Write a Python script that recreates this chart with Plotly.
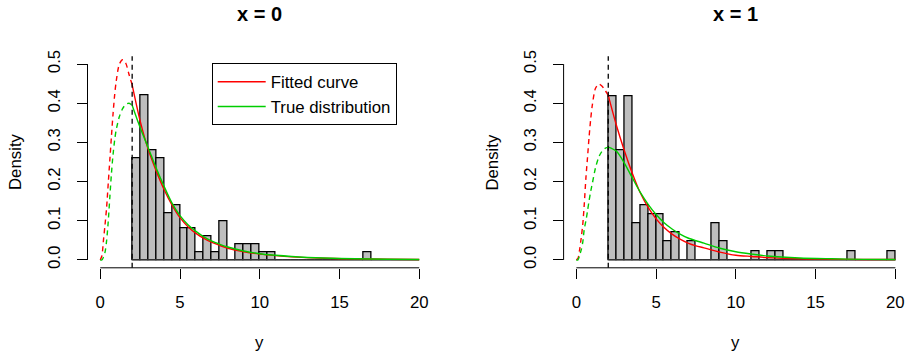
import plotly.graph_objects as go

# ---------------- data ----------------
bin_start = 2.0
bin_width = 0.5

# histogram densities, bins [2,2.5), [2.5,3), ... [19.5,20)
dens_x0 = [0.26, 0.42, 0.28, 0.26, 0.12, 0.14, 0.08, 0.08, 0.02, 0.06,
           0.02, 0.10, 0.00, 0.04, 0.04, 0.04, 0.02, 0.02,
           0, 0, 0, 0, 0, 0, 0, 0, 0, 0, 0,
           0.02,
           0, 0, 0, 0, 0, 0]
dens_x1 = [0.419, 0.279, 0.419, 0.093, 0.140, 0.116, 0.116, 0.047, 0.070, 0.0,
           0.047, 0.0, 0.0, 0.093, 0.047, 0.0, 0.0, 0.0,
           0.023, 0.0, 0.023, 0.023,
           0, 0, 0, 0, 0, 0, 0, 0,
           0.023, 0, 0, 0, 0,
           0.023]

grid = [0, 0.1, 0.2, 0.3, 0.4, 0.5, 0.6, 0.7, 0.8, 0.9, 1.0, 1.2, 1.4, 1.6, 1.8, 2.0,
        2.5, 3, 3.5, 4, 4.5, 5, 5.5, 6, 6.5, 7, 7.5, 8, 9, 10, 11, 12, 14, 16, 18, 20]

fit_x0 = [0, 0.01, 0.05, 0.09, 0.135, 0.195, 0.255, 0.315, 0.372, 0.42, 0.456, 0.5, 0.511, 0.502, 0.474, 0.447,
          0.355, 0.283, 0.228, 0.18, 0.14, 0.108, 0.085, 0.068, 0.055, 0.045, 0.037, 0.030, 0.021, 0.015,
          0.011, 0.008, 0.0045, 0.003, 0.002, 0.0013]
true_x0 = [0, 0.0, 0.007, 0.02, 0.05, 0.098, 0.16, 0.22, 0.268, 0.305, 0.332, 0.366, 0.386, 0.397, 0.40, 0.395,
           0.338, 0.287, 0.235, 0.188, 0.145, 0.113, 0.09, 0.073, 0.059, 0.048, 0.04, 0.033, 0.023, 0.016,
           0.012, 0.009, 0.005, 0.003, 0.002, 0.0013]
fit_x1 = [0, 0.004, 0.025, 0.055, 0.09, 0.145, 0.21, 0.262, 0.315, 0.36, 0.395, 0.438, 0.449, 0.444, 0.433, 0.42,
          0.345, 0.28, 0.222, 0.172, 0.134, 0.105, 0.083, 0.066, 0.053, 0.043, 0.036, 0.031, 0.02, 0.012,
          0.009, 0.006, 0.003, 0.002, 0.0012, 0.001]
true_x1 = [0, 0.0, 0.012, 0.025, 0.045, 0.08, 0.1, 0.125, 0.152, 0.175, 0.195, 0.235, 0.262, 0.277, 0.285, 0.288,
           0.278, 0.248, 0.21, 0.173, 0.142, 0.116, 0.095, 0.079, 0.066, 0.056, 0.049, 0.043, 0.03, 0.021,
           0.015, 0.01, 0.005, 0.003, 0.0015, 0.001]

cut = 2.0
x_ticks = [0, 5, 10, 15, 20]
y_ticks = [0.0, 0.1, 0.2, 0.3, 0.4, 0.5]
titles = ["x = 0", "x = 1"]
series_names = ["Fitted curve", "True distribution"]
RED = "#FF0000"
GREEN = "#00CD00"

# ---------------- layout geometry (pixels) ----------------
W, H = 906, 354
FONT = "Liberation Sans, Arial, Helvetica, sans-serif"
FS = 16.8
xrange_full = [-0.8, 20.8]
left_px = [87.5, 432.0]
right_left = 563.6
right_range = [-0.8, -0.8 + (W - right_left) / 15.95]
y_top_px, y_bot_px = 56.2, 267.8
ydom = [(H - y_bot_px) / H, (H - y_top_px) / H]
yrange = [-0.02, 0.52]

fig = go.Figure()

panels = [
    (dens_x0, fit_x0, true_x0, "x", "y"),
    (dens_x1, fit_x1, true_x1, "x2", "y2"),
]

for i, (dens, fit, true, xa, ya) in enumerate(panels):
    centers = [bin_start + bin_width * (k + 0.5) for k in range(len(dens))]
    fig.add_trace(go.Bar(
        x=centers, y=dens, width=bin_width,
        marker=dict(color="#BEBEBE", line=dict(color="black", width=1.3)),
        xaxis=xa, yaxis=ya, showlegend=False, hoverinfo="skip"))
    edges = [bin_start, bin_start + bin_width * len(dens)]
    fig.add_trace(go.Scatter(
        x=edges, y=[0, 0], mode="lines",
        line=dict(color="#444444", width=1.3),
        xaxis=xa, yaxis=ya, showlegend=False, hoverinfo="skip"))
    for curve, color, name in [(fit, RED, series_names[0]), (true, GREEN, series_names[1])]:
        xd = [g for g in grid if g <= cut]
        yd = [v for g, v in zip(grid, curve) if g <= cut]
        xs = [g for g in grid if g >= cut]
        ys = [v for g, v in zip(grid, curve) if g >= cut]
        fig.add_trace(go.Scatter(
            x=xd, y=yd, mode="lines",
            line=dict(color=color, width=1.4, dash="5px,4px", shape="spline", smoothing=0.8),
            xaxis=xa, yaxis=ya, showlegend=False, hoverinfo="skip"))
        fig.add_trace(go.Scatter(
            x=xs, y=ys, mode="lines", name=name,
            line=dict(color=color, width=1.4, shape="spline", smoothing=0.8),
            xaxis=xa, yaxis=ya, showlegend=(i == 0), hoverinfo="skip"))

axis_common = dict(showgrid=False, zeroline=False, showline=False,
                   ticks="outside", ticklen=10, tickwidth=1, tickcolor="black",
                   tickfont=dict(family=FONT, size=FS, color="black"))

fig.update_layout(
    width=W, height=H,
    margin=dict(l=0, r=0, t=0, b=0, autoexpand=False),
    paper_bgcolor="white", plot_bgcolor="white",
    font=dict(family=FONT, size=FS, color="black"),
    bargap=0,
    xaxis=dict(domain=[left_px[0] / W, left_px[1] / W], range=xrange_full,
               tickvals=x_ticks, ticktext=[str(t) for t in x_ticks],
               ticklabelstandoff=9, anchor="y", **axis_common),
    yaxis=dict(domain=ydom, range=yrange, tickvals=y_ticks,
               ticktext=["%.1f" % t for t in y_ticks], tickangle=-90,
               ticklabelstandoff=10, anchor="x", **axis_common),
    xaxis2=dict(domain=[right_left / W, 1.0], range=right_range,
                tickvals=x_ticks, ticktext=[str(t) for t in x_ticks],
                ticklabelstandoff=9, anchor="y2", **axis_common),
    yaxis2=dict(domain=ydom, range=yrange, tickvals=y_ticks,
                ticktext=["%.1f" % t for t in y_ticks], tickangle=-90,
                ticklabelstandoff=10, anchor="x2", **axis_common),
    legend=dict(x=211.7 / W, y=(H - 63.3) / H, xanchor="left", yanchor="top",
                bgcolor="white", bordercolor="black", borderwidth=1,
                font=dict(family=FONT, size=FS, color="black"),
                tracegroupgap=0, itemwidth=48, entrywidth=193),
)

shapes = []
for xa, ya in [("x", "y"), ("x2", "y2")]:
    shapes.append(dict(type="line", xref=xa, yref=ya + " domain",
                       x0=x_ticks[0], x1=x_ticks[-1], y0=0, y1=0,
                       line=dict(color="black", width=1)))
    shapes.append(dict(type="line", xref=xa + " domain", yref=ya,
                       x0=0, x1=0, y0=y_ticks[0], y1=y_ticks[-1],
                       line=dict(color="black", width=1)))
    shapes.append(dict(type="line", xref=xa, yref=ya + " domain",
                       x0=cut, x1=cut, y0=0, y1=1,
                       line=dict(color="black", width=1.3, dash="5px,4px")))
fig.update_layout(shapes=shapes)

mid = (xrange_full[0] + xrange_full[1]) / 2
ann = []
for i, xa in enumerate(["x", "x2"]):
    ann.append(dict(text="<b>%s</b>" % titles[i], xref=xa, x=mid, yref="paper", y=(H - 14) / H,
                    showarrow=False, xanchor="center", yanchor="middle",
                    font=dict(family=FONT, size=20, color="black")))
    ann.append(dict(text="y", xref=xa, x=mid, yref="paper", y=(H - 342) / H,
                    showarrow=False, xanchor="center", yanchor="middle",
                    font=dict(family=FONT, size=FS, color="black")))
y_mid_paper = (ydom[0] + ydom[1]) / 2
for xpx in [15, right_left - 72]:
    ann.append(dict(text="Density", xref="paper", x=xpx / W, yref="paper", y=y_mid_paper,
                    showarrow=False, xanchor="center", yanchor="middle", textangle=-90,
                    font=dict(family=FONT, size=FS, color="black")))
fig.update_layout(annotations=ann)

fig.write_html("out.html")
